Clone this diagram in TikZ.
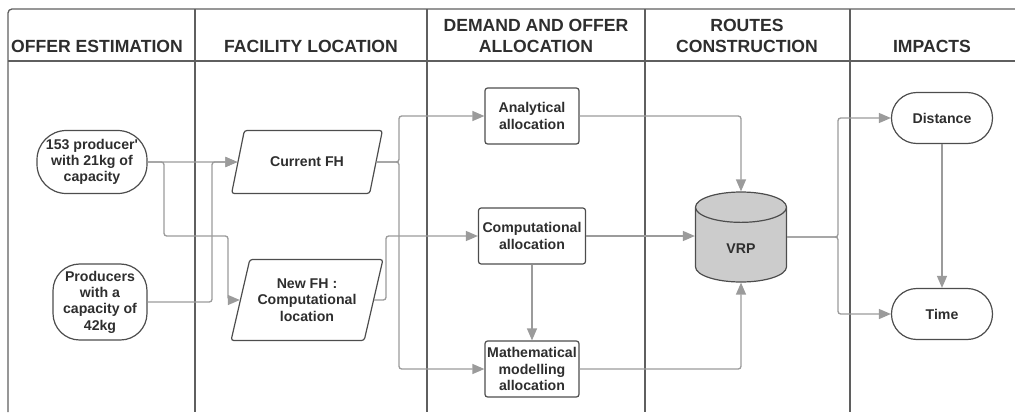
\documentclass[tikz,border=0pt]{standalone}
\usepackage{fontspec}
\setmainfont{Liberation Sans}
\usetikzlibrary{shapes.geometric, arrows.meta, positioning, calc}

\definecolor{laneline}{HTML}{5F5F5F}
\definecolor{boxline}{HTML}{4D4D4D}
\definecolor{flowline}{HTML}{9B9B9B}
\definecolor{vrpfill}{HTML}{CCCCCC}
\definecolor{inktext}{HTML}{2E2E2E}

\begin{document}
\begin{tikzpicture}[
        x=0.75pt, y=-0.75pt,
        font=\bfseries\fontsize{10.6}{12.2}\selectfont,
        text=inktext,
        >={Triangle[length=9pt, width=7.5pt]},
        lane/.style={draw=laneline, line width=1pt},
        head/.style={font=\bfseries\fontsize{13.2}{15.8}\selectfont, align=center},
        procbox/.style={draw=boxline, line width=0.9pt, rounded corners=2pt, align=center, inner sep=1pt},
        termbox/.style={procbox, rounded corners=#1},
        iobox/.style={draw=boxline, line width=0.9pt, rounded corners=2pt, align=center, trapezium, trapezium stretches=true},
        flow/.style={draw=flowline, line width=1pt, ->, rounded corners=2pt}
    ]
    \useasboundingbox (0,0) rectangle (1015,412);

    % Swimlanes
    \draw[lane, rounded corners=3pt] (8,412) -- (8,9) -- (1015,9);
    \draw[lane] (8,61) -- (1015,61);
    \foreach \x in {195,427,645,850}
        \draw[lane] (\x,9) -- (\x,412);

    % Lane titles
    \node[head] (hoffer) at (97,46.5) {OFFER ESTIMATION};
    \node[head] (hfacil) at (311,46.5) {FACILITY LOCATION};
    \node[head] (hdemand) at (536,36) {DEMAND AND OFFER\\ALLOCATION};
    \node[head] (hroutes) at (747,36) {ROUTES\\CONSTRUCTION};
    \node[head] (himpact) at (932,46.5) {IMPACTS};

    % Offer estimation
    \node[termbox=22pt, minimum width=82.5pt, minimum height=47.25pt] (prodA) at (92,162) {153 producer\textquotesingle\\with 21kg of\\capacity};
    \node[termbox=20pt, minimum width=70.5pt, minimum height=57pt] (prodB) at (100,302) {Producers\\with a\\capacity of\\42kg};

    % Facility location
    \node[iobox, trapezium left angle=66, trapezium right angle=114, minimum width=114pt, minimum height=47.25pt] (curfh) at (307,162) {Current FH};
    \node[iobox, trapezium left angle=71, trapezium right angle=109, minimum width=114pt, minimum height=60.75pt] (newfh) at (307,300) {New FH :\\Computational\\location};

    % Demand and offer allocation
    \node[procbox, minimum width=70.5pt, minimum height=42pt] (anal) at (532,116) {Analytical\\allocation};
    \node[procbox, minimum width=80.25pt, minimum height=42pt] (comp) at (532,236) {Computational\\allocation};
    \node[procbox, minimum width=70.5pt, minimum height=42pt] (math) at (532,369) {Mathematical\\modelling\\allocation};

    % Routes construction
    \node[cylinder, shape border rotate=90, draw=boxline, line width=0.9pt, aspect=0.8,
          cylinder uses custom fill, cylinder body fill=vrpfill, cylinder end fill=vrpfill,
          minimum width=68.25pt, minimum height=67.5pt, anchor=shape center] (vrp) at (741,237) {VRP};

    % Impacts
    \node[termbox=19pt, minimum width=75.75pt, minimum height=38.25pt] (dist) at (942,118) {Distance};
    \node[termbox=19pt, minimum width=75.75pt, minimum height=38.25pt] (time) at (942,314) {Time};

    % Flows
    \draw[flow] (prodA.east) -- (curfh.west);
    \draw[flow] (prodA.east) -- (164,162) -- (164,236) -- (228,236) |- (newfh.west);
    \draw[flow] (prodB.east) -| (212,162) -- (curfh.west);
    \draw[flow] (curfh.east) -- (399,162) |- (anal.west);
    \draw[flow] (curfh.east) -- (399,162) |- (math.west);
    \draw[flow] (newfh.east) -- (386,300) |- (comp.west);
    \draw[flow] (comp) -- (math);
    \draw[flow] (anal.east) -| (vrp.north);
    \draw[flow] (comp.east) -- (comp.east -| vrp.west);
    \draw[flow] (math.east) -| (vrp.south);
    \draw[flow] (vrp.shape center -| vrp.east) -- (838,237) |- (dist.west);
    \draw[flow] (vrp.shape center -| vrp.east) -- (838,237) |- (time.west);
    \draw[flow] (dist) -- (time);

\end{tikzpicture}
\end{document}
